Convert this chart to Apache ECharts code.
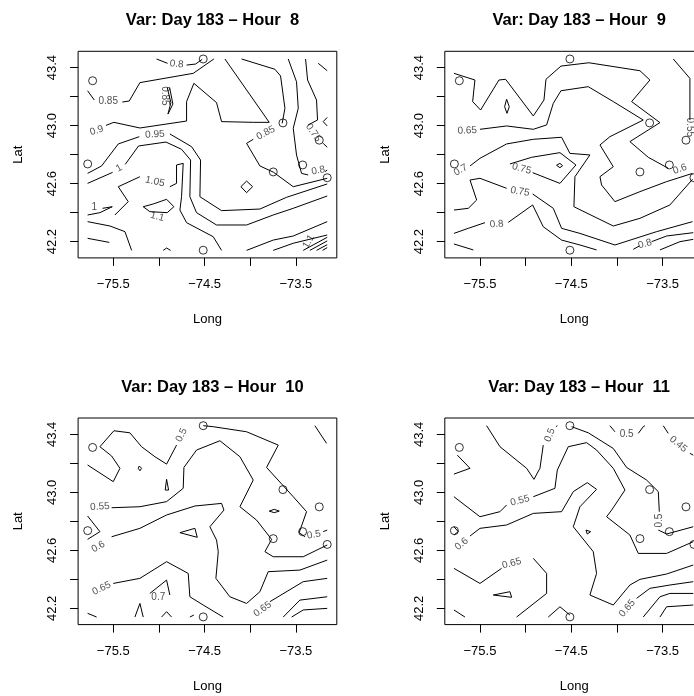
<!DOCTYPE html>
<html>
<head>
<meta charset="utf-8">
<title>Var: Day 183</title>
<script src="https://cdn.jsdelivr.net/npm/echarts@6/dist/echarts.min.js"></script>
<style>
  html, body { margin: 0; padding: 0; background: #fff; }
  #main { width: 694px; height: 696px; }
</style>
</head>
<body>
<div id="main"></div>
<script>
// panel hours
var hours = ['8', '9', '10', '11'];

// station locations (same in every panel)
var stationLon = [-74.515, -75.726, -73.642, -73.244, -75.780, -73.748, -73.426, -73.157, -74.515];
var stationLat = [43.460, 43.310, 43.019, 42.900, 42.736, 42.681, 42.729, 42.641, 42.141];

// axis ticks and labels
var xTicks = [-75.5, -75, -74.5, -74, -73.5];
var xLabels = [-75.5, -74.5, -73.5];
var yTicks = [42.2, 42.4, 42.6, 42.8, 43.0, 43.2, 43.4];
var yLabels = [42.2, 42.6, 43.0, 43.4];

// contour lines as [lon, lat]; null marks the gap left for a label
var lines8 = [
  [[-75.026,43.460],[-74.905,43.430],null,[-74.697,43.418],[-74.599,43.425],[-74.526,43.457]],
  [[-75.781,43.241],[-75.708,43.177],null,[-75.401,43.163],[-75.325,43.170],[-75.208,43.297],[-74.624,43.361],[-74.398,43.460]],
  [[-74.909,43.264],[-74.869,43.159],[-74.901,43.080],[-74.847,43.149],[-74.883,43.264]],
  [[-75.781,42.929],null,[-75.580,43.002],[-75.493,43.023],[-75.208,42.984],[-74.697,43.032],[-74.697,43.166],[-74.617,43.292],[-74.369,43.159],[-74.314,43.028],[-73.967,43.023],[-73.792,43.023],[-74.277,43.460]],
  [[-74.095,43.460],[-73.730,43.389],[-73.668,43.343],[-73.620,43.120],[-73.650,43.016],null,[-73.967,42.906],[-74.040,42.878],[-73.894,42.722],[-73.748,42.680],[-73.529,42.579],[-73.157,42.637]],
  [[-73.584,43.460],[-73.493,43.303],[-73.474,43.120],[-73.529,42.982],[-73.493,42.798],[-73.438,42.671],[-73.365,42.660],null,[-73.182,42.683],[-73.157,42.694]],
  [[-73.394,43.460],[-73.372,43.315],[-73.274,43.177],[-73.263,43.039],[-73.365,43.005],null,[-73.201,42.878],[-73.157,42.851]],
  [[-73.255,43.430],[-73.157,43.379]],
  [[-73.157,43.057],[-73.201,43.028],[-73.157,42.998]],
  [[-74.040,42.618],[-73.974,42.579],[-74.040,42.538],[-74.102,42.579],[-74.040,42.618]],
  [[-75.781,42.671],[-75.628,42.722],[-75.445,42.874],[-75.215,42.924],null,[-74.880,42.943],[-74.642,42.855],[-74.544,42.763],[-74.551,42.510],[-74.314,42.414],[-73.894,42.425],[-73.602,42.506],[-73.157,42.598]],
  [[-75.781,42.602],[-75.507,42.678],null,[-75.369,42.733],[-75.223,42.860],[-74.923,42.887],[-74.752,42.837],[-74.653,42.763],[-74.661,42.510],[-74.588,42.400],[-74.369,42.315],[-74.040,42.315],[-73.748,42.384],[-73.529,42.430],[-73.157,42.515]],
  [[-75.482,42.384],[-75.336,42.476],[-75.445,42.579],[-75.208,42.648],null,[-74.880,42.579],[-74.807,42.602],[-74.807,42.729],[-74.734,42.740],[-74.752,42.510],[-74.770,42.418],[-74.697,42.331],[-74.405,42.234],[-74.314,42.140]],
  [[-75.781,42.441],null,[-75.617,42.430],[-75.511,42.441],[-75.646,42.400],[-75.781,42.384]],
  [[-75.781,42.338],[-75.536,42.308],[-75.372,42.269],[-75.299,42.140]],
  [[-75.781,42.223],[-75.544,42.195]],
  [[-75.172,42.441],[-75.062,42.460],[-74.916,42.492],[-74.836,42.441],[-74.909,42.400],[-75.099,42.407],[-75.172,42.441]],
  [[-74.040,42.140],[-73.748,42.211],[-73.529,42.239],[-73.157,42.338]],
  [[-73.748,42.140],[-73.529,42.189],[-73.157,42.246]],
  [[-73.420,42.140],[-73.157,42.230]],
  [[-73.347,42.140],[-73.157,42.205]],
  [[-73.274,42.140],[-73.157,42.179]],
  [[-73.208,42.140],[-73.157,42.159]],
  [[-74.953,42.140],[-74.916,42.156],[-74.872,42.140]]
];
var labels8 = [
  [-74.807, 43.425, '0.8', -5],
  [-75.555, 43.166, '0.85', 0],
  [-74.931, 43.205, '0.85', -90],
  [-75.682, 42.966, '0.9', 18],
  [-73.830, 42.950, '0.85', 28],
  [-73.255, 42.690, '0.8', 10],
  [-73.310, 42.952, '0.75', -55],
  [-75.044, 42.940, '0.95', 3],
  [-75.438, 42.706, '1', 30],
  [-75.044, 42.614, '1.05', -12],
  [-75.708, 42.434, '1', 0],
  [-75.018, 42.372, '1.1', -15],
  [-73.360, 42.200, '1.1', 60]
];

var lines9 = [
  [[-75.785,43.361],[-75.555,43.315],[-75.580,43.166],[-75.493,43.108],[-75.292,43.315],[-75.219,43.320],[-74.916,43.067],[-74.799,43.177],[-74.777,43.320],[-74.613,43.411],[-74.307,43.434],[-73.748,43.379],[-73.639,43.315],[-73.839,43.166],[-73.529,43.021],[-73.858,42.890],[-73.657,42.782],[-73.438,42.706],null,[-73.164,42.729]],
  [[-75.208,43.182],[-75.179,43.131],[-75.204,43.085],[-75.230,43.131],[-75.208,43.182]],
  [[-75.785,42.970],null,[-75.500,42.975],[-75.208,42.998],[-74.916,42.975],[-74.770,43.005],[-74.697,43.154],[-74.613,43.241],[-74.314,43.269],[-74.040,43.166],[-73.712,43.039],[-74.077,42.924],[-74.186,42.867],[-74.040,42.717],[-74.186,42.648],[-74.168,42.591],[-74.022,42.476],[-73.748,42.545],[-73.456,42.614],[-73.172,42.671]],
  [[-75.785,42.667],null,[-75.609,42.722],[-75.500,42.775],[-75.208,42.874],[-74.916,42.906],[-74.606,42.920],[-74.515,42.809],[-74.296,42.798],[-74.460,42.648],[-74.471,42.441],[-74.040,42.308],[-73.748,42.361],[-73.420,42.453],[-73.172,42.630]],
  [[-74.923,42.676],[-74.624,42.602],[-74.449,42.729],[-74.624,42.814],[-74.934,42.782],[-75.172,42.736]],
  [[-74.661,42.727],[-74.624,42.740],[-74.595,42.724],[-74.624,42.710],[-74.661,42.727]],
  [[-75.785,42.418],[-75.628,42.430],[-75.536,42.487],[-75.609,42.625],[-75.500,42.637],[-75.208,42.568],null,[-74.923,42.529],[-74.697,42.430],[-74.606,42.292],[-74.405,42.257],[-74.022,42.177],[-73.566,42.269],[-73.172,42.338]],
  [[-75.785,42.257],[-75.628,42.292],[-75.445,42.331],null,[-75.190,42.333],[-74.923,42.453],[-74.807,42.303],[-74.606,42.211],[-74.405,42.177],[-74.223,42.143]],
  [[-75.785,42.184],[-75.573,42.143]],
  [[-73.821,42.147],[-73.755,42.170],null,[-73.620,42.200],[-73.456,42.239],[-73.164,42.262]],
  [[-73.529,42.143],[-73.310,42.200],[-73.164,42.216]],
  [[-73.383,43.460],[-73.201,43.326],[-73.201,43.039]]
];
var labels9 = [
  [-73.310, 42.701, '0.6', 20],
  [-75.639, 42.966, '0.65', 3],
  [-75.712, 42.694, '0.7', 30],
  [-75.044, 42.703, '0.75', -15],
  [-75.062, 42.545, '0.75', -10],
  [-75.318, 42.320, '0.8', 5],
  [-73.693, 42.184, '0.8', 15],
  [-73.208, 42.989, '0.55', -90]
];

var lines10 = [
  [[-75.781,43.189],[-75.500,43.074],[-75.427,43.166],[-75.518,43.251],[-75.646,43.315],[-75.493,43.425],[-75.318,43.411],[-75.190,43.315],[-75.044,43.246],[-74.916,43.195],[-74.807,43.326],null,[-74.708,43.460]],
  [[-74.515,43.460],[-74.405,43.453],[-74.040,43.418],[-73.693,43.326],[-73.821,43.172],[-73.529,42.970],[-73.383,42.867],[-73.464,42.722],[-73.401,42.694],null,[-73.201,42.729],[-73.157,42.740]],
  [[-73.292,43.460],[-73.164,43.338]],
  [[-75.781,42.890],null,[-75.518,42.894],[-75.208,42.901],[-74.916,42.936],[-74.734,43.028],[-74.726,43.172],[-74.588,43.292],[-74.332,43.356],[-74.113,43.246],[-73.967,43.085],[-74.113,42.901],[-73.931,42.809],[-73.766,42.676],[-73.839,42.591],[-73.748,42.556],[-73.420,42.556],[-73.157,42.637]],
  [[-75.781,42.579],null,[-75.518,42.694],[-75.208,42.752],[-74.916,42.844],[-74.606,42.906],[-74.314,42.924],[-74.288,42.878],[-74.442,42.763],[-74.369,42.671],[-74.350,42.591],[-74.376,42.407],[-74.223,42.280],[-74.040,42.234],[-73.894,42.315],[-73.803,42.453],[-73.456,42.464],[-73.157,42.533]],
  [[-75.781,42.303],null,[-75.500,42.372],[-75.208,42.407],[-74.916,42.522],[-74.679,42.441],[-74.661,42.280],[-74.515,42.223],[-74.296,42.140]],
  [[-74.880,42.292],[-74.916,42.395],[-75.099,42.303]],
  [[-73.967,42.140],null,[-73.785,42.246],[-73.420,42.384],[-73.157,42.407]],
  [[-73.639,42.140],[-73.456,42.257],[-73.157,42.280]],
  [[-73.547,42.140],[-73.420,42.189],[-73.157,42.200]],
  [[-75.781,42.166],[-75.682,42.140]],
  [[-75.263,42.140],[-75.208,42.234],[-75.172,42.140]],
  [[-74.971,42.140],[-74.916,42.177],[-74.861,42.140]],
  [[-74.661,42.140],[-74.617,42.154]],
  [[-75.781,42.837],[-75.646,42.729],[-75.781,42.676]],
  [[-75.215,43.182],[-75.190,43.166],[-75.208,43.149],[-75.226,43.166],[-75.215,43.182]],
  [[-74.916,43.090],[-74.894,43.016],[-74.931,43.016],[-74.916,43.090]],
  [[-74.770,42.722],[-74.606,42.752],[-74.580,42.690],[-74.770,42.722]],
  [[-73.792,42.871],[-73.737,42.883],[-73.682,42.871],[-73.737,42.860],[-73.792,42.871]]
];
var labels10 = [
  [-74.752, 43.395, '0.5', 65],
  [-73.303, 42.708, '0.5', 10],
  [-75.646, 42.901, '0.55', 3],
  [-75.664, 42.625, '0.6', 30],
  [-75.628, 42.338, '0.65', 25],
  [-75.007, 42.280, '0.7', 0],
  [-73.865, 42.194, '0.65', 35]
];

var lines11 = [
  [[-75.427,43.460],[-75.281,43.315],[-74.989,43.166],[-74.909,43.090],[-74.843,43.166],[-74.807,43.326],null,[-74.668,43.453],[-74.653,43.460]],
  [[-74.077,43.460],[-74.022,43.418],null,[-73.766,43.407],[-73.712,43.453],[-73.693,43.460]],
  [[-73.493,43.460],[-73.438,43.407],null,[-73.201,43.269],[-73.164,43.257]],
  [[-74.496,43.453],[-74.314,43.411],[-74.040,43.303],[-73.894,43.172],[-73.675,43.085],[-73.547,43.005],[-73.536,42.867],null,[-73.547,42.740],[-73.456,42.713],[-73.164,42.763]],
  [[-75.785,42.970],[-75.500,42.832],[-75.281,42.867],[-75.208,42.913],null,[-74.916,42.970],[-74.679,43.028],[-74.653,43.154],[-74.533,43.315],[-74.332,43.343],[-74.223,43.292],[-74.040,43.166],[-73.912,43.016],[-74.058,42.878],[-74.113,42.832],[-73.858,42.706],[-73.766,42.579],[-73.456,42.579],[-73.164,42.660]],
  [[-75.785,42.579],null,[-75.609,42.699],[-75.500,42.752],[-75.208,42.775],[-74.916,42.855],[-74.606,42.867],[-74.478,43.005],[-74.325,43.067],[-74.223,43.021],[-74.405,42.901],[-74.478,42.763],[-74.259,42.591],[-74.223,42.441],[-74.296,42.292],[-74.040,42.223],[-73.858,42.361],[-73.748,42.400],[-73.456,42.437],[-73.164,42.499]],
  [[-75.785,42.476],[-75.500,42.372],[-75.263,42.476],null,[-74.916,42.545],[-74.770,42.441],[-74.770,42.303],[-75.099,42.140]],
  [[-75.354,42.292],[-75.172,42.315],[-75.153,42.276],[-75.354,42.292]],
  [[-73.985,42.140],null,[-73.785,42.269],[-73.639,42.338],[-73.420,42.361],[-73.164,42.384]],
  [[-73.712,42.140],[-73.529,42.280],[-73.420,42.303],[-73.164,42.303]],
  [[-73.529,42.140],[-73.456,42.211],[-73.164,42.223]],
  [[-75.785,42.189],[-75.664,42.140]],
  [[-74.752,42.140],[-74.624,42.211],[-74.515,42.154]],
  [[-75.785,43.126],[-75.609,43.166],[-75.748,43.257]],
  [[-74.339,42.740],[-74.288,42.729],[-74.325,42.713],[-74.339,42.740]],
  [[-75.785,42.763],[-75.737,42.729],[-75.785,42.706]]
];
var labels11 = [
  [-74.734, 43.395, '0.5', 70],
  [-73.894, 43.400, '0.5', 0],
  [-73.328, 43.333, '0.45', -40],
  [-73.536, 42.805, '0.5', 90],
  [-75.062, 42.943, '0.55', 15],
  [-75.701, 42.644, '0.6', 40],
  [-75.153, 42.510, '0.65', 15],
  [-73.887, 42.200, '0.65', 50]
];

var allLines = [lines8, lines9, lines10, lines11];
var allLabels = [labels8, labels9, labels10, labels11];

var xMin = -75.885, xMax = -73.052, yMin = 42.088, yMax = 43.513;
var font = '"Liberation Sans", Arial, Helvetica, sans-serif';
var lefts = [78.1, 444.8], tops = [51.3, 418.0];
var gw = 258.7, gh = 206.6;

function fmt(v) {
  var s = Math.abs(v).toFixed(1);
  return v < 0 ? '\u2212' + s : s;
}

function buildOption(customTicks) {
  var grids = [], xAxes = [], yAxes = [], titles = [], series = [];
  for (var p = 0; p < 4; p++) {
    var left = lefts[p % 2], top = tops[Math.floor(p / 2)];
    grids.push({left: left, top: top, width: gw, height: gh, show: true,
      outerBoundsMode: 'none', containLabel: false,
      borderColor: '#000', borderWidth: 1, backgroundColor: 'transparent'});
    titles.push({text: 'Var: Day 183 \u2013 Hour  ' + hours[p], left: left + gw / 2, top: top - 44,
      textAlign: 'center',
      textStyle: {fontFamily: font, fontSize: 16.5, fontWeight: 'bold', color: '#000'}});

    var xa = {gridIndex: p, type: 'value', min: xMin, max: xMax,
      name: 'Long', nameLocation: 'middle', nameGap: 55,
      nameTextStyle: {fontFamily: font, fontSize: 13, color: '#000'},
      axisLine: {show: false}, splitLine: {show: false}};
    var ya = {gridIndex: p, type: 'value', min: yMin, max: yMax,
      name: 'Lat', nameLocation: 'middle', nameGap: 53, nameRotate: 90,
      nameTextStyle: {fontFamily: font, fontSize: 13, color: '#000'},
      axisLine: {show: false}, splitLine: {show: false}};
    if (!customTicks) {
      xa.axisTick = {show: true, length: 8, customValues: xTicks, lineStyle: {color: '#000', width: 1}};
      xa.axisLabel = {customValues: xLabels, formatter: fmt, margin: 20,
        fontFamily: font, fontSize: 13, color: '#000'};
      ya.axisTick = {show: true, length: 8, customValues: yTicks, lineStyle: {color: '#000', width: 1}};
      ya.axisLabel = {customValues: yLabels, formatter: fmt, margin: 19, rotate: 90,
        fontFamily: font, fontSize: 13, color: '#000'};
    } else {
      xa.axisTick = {show: false};
      xa.axisLabel = {show: false};
      ya.axisTick = {show: false};
      ya.axisLabel = {show: false};
      // ticks drawn through the axis scale
      series.push({type: 'custom', xAxisIndex: p, yAxisIndex: p, clip: false, silent: true,
        data: xTicks.map(function (v) { return [v, yMin]; }),
        renderItem: function (params, api) {
          var v = api.value(0), pt = api.coord([v, yMin]);
          var kids = [{type: 'line', shape: {x1: pt[0], y1: pt[1], x2: pt[0], y2: pt[1] + 8},
            style: {stroke: '#000', lineWidth: 1}}];
          if (xLabels.indexOf(v) >= 0) {
            kids.push({type: 'text', x: pt[0], y: pt[1] + 20,
              style: {text: fmt(v), align: 'center', verticalAlign: 'top',
                font: '13px ' + font, fill: '#000'}});
          }
          return {type: 'group', children: kids};
        }});
      series.push({type: 'custom', xAxisIndex: p, yAxisIndex: p, clip: false, silent: true,
        data: yTicks.map(function (v) { return [xMin, v]; }),
        renderItem: function (params, api) {
          var v = api.value(1), pt = api.coord([xMin, v]);
          var kids = [{type: 'line', shape: {x1: pt[0], y1: pt[1], x2: pt[0] - 8, y2: pt[1]},
            style: {stroke: '#000', lineWidth: 1}}];
          if (yLabels.indexOf(v) >= 0) {
            kids.push({type: 'text', x: pt[0] - 19, y: pt[1], rotation: Math.PI / 2,
              style: {text: fmt(v), align: 'center', verticalAlign: 'bottom',
                font: '13px ' + font, fill: '#000'}});
          }
          return {type: 'group', children: kids};
        }});
    }
    xAxes.push(xa);
    yAxes.push(ya);

    // contour lines, split at the label gaps
    allLines[p].forEach(function (ln) {
      var seg = [];
      ln.concat([null]).forEach(function (pt) {
        if (pt === null) {
          if (seg.length > 1) {
            series.push({type: 'line', xAxisIndex: p, yAxisIndex: p, data: seg,
              symbol: 'none', silent: true, animation: false,
              lineStyle: {color: '#000', width: 1}});
          }
          seg = [];
        } else {
          seg.push(pt);
        }
      });
    });

    // contour labels
    series.push({type: 'scatter', xAxisIndex: p, yAxisIndex: p, symbolSize: 1,
      silent: true, animation: false, itemStyle: {color: 'rgba(255,255,255,0)'},
      data: allLabels[p].map(function (l) {
        return {value: [l[0], l[1]], name: l[2], label: {rotate: l[3]}};
      }),
      label: {show: true, position: 'inside', formatter: '{b}',
        fontFamily: font, fontSize: 10, color: '#222'}});

    // stations, open circles
    series.push({type: 'scatter', xAxisIndex: p, yAxisIndex: p, symbol: 'circle',
      symbolSize: 8, silent: true, animation: false,
      itemStyle: {color: 'rgba(255,255,255,0)', borderColor: '#000', borderWidth: 1},
      data: stationLon.map(function (v, i) { return [v, stationLat[i]]; })});
  }
  return {
    animation: false,
    backgroundColor: '#fff',
    title: titles,
    grid: grids,
    xAxis: xAxes,
    yAxis: yAxes,
    series: series
  };
}

var dom = document.getElementById('main');
var chart = echarts.init(dom);
try {
  chart.setOption(buildOption(false));
} catch (e) {
  console.log('custom tick values failed: ' + e.message);
  chart.dispose();
  chart = echarts.init(dom);
  chart.setOption(buildOption(true));
}
</script>
</body>
</html>
